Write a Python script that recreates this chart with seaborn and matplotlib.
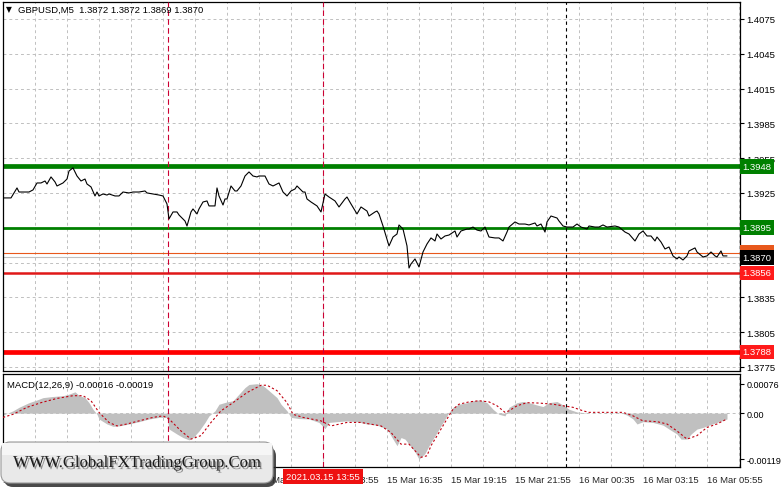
import numpy as np
import pandas as pd
import matplotlib
matplotlib.use("Agg")
import matplotlib.pyplot as plt
import matplotlib.patheffects as pe
import matplotlib.transforms as mtrans
from matplotlib.patches import FancyBboxPatch, Rectangle
import seaborn as sns

# ------------------- data -------------------
symbol_title = "GBPUSD,M5  1.3872 1.3872 1.3869 1.3870"
macd_title = "MACD(12,26,9) -0.00016 -0.00019"

# M5 bar index and close price
price_bar = [0, 4, 7, 8, 13, 15, 17, 19, 21, 22, 24, 26, 27, 30, 32, 33, 35, 37, 39, 41,
             42, 44, 46, 47, 48, 50, 52, 53, 56, 58, 60, 63, 65, 68, 71, 72, 75, 78, 80, 82,
             83, 85, 87, 88, 90, 91, 92, 94, 95, 97, 98, 100, 102, 103, 106, 107, 108, 110, 111, 112,
             114, 116, 117, 119, 121, 123, 125, 127, 128, 131, 133, 135, 138, 140, 142, 144, 146, 147, 150, 151,
             152, 154, 157, 159, 161, 163, 166, 168, 171, 172, 174, 177, 179, 182, 183, 186, 187, 188, 190, 193,
             195, 197, 198, 200, 202, 203, 204, 206, 208, 210, 212, 214, 216, 217, 219, 221, 223, 226, 227, 229,
             232, 233, 235, 237, 239, 241, 243, 246, 248, 250, 252, 253, 256, 258, 261, 263, 266, 267, 269, 271,
             272, 274, 277, 278, 280, 282, 285, 287, 289, 292, 293, 296, 298, 300, 302, 306, 308, 311, 313, 316,
             318, 320, 322, 324, 326, 327, 329, 331, 333, 335, 337, 338, 340, 342, 343, 346, 347, 350, 352, 354,
             356, 357, 359, 360, 362]
price_close = [1.39207, 1.39207, 1.39293, 1.39258, 1.39258, 1.39276, 1.39336, 1.39336, 1.39353, 1.39327,
               1.39388, 1.39345, 1.39310, 1.39336, 1.39370, 1.39439, 1.39466, 1.39396, 1.39353, 1.39370,
               1.39327, 1.39302, 1.39224, 1.39258, 1.39224, 1.39241, 1.39232, 1.39241, 1.39224, 1.39224,
               1.39258, 1.39250, 1.39258, 1.39258, 1.39267, 1.39250, 1.39241, 1.39232, 1.39224, 1.39155,
               1.39026, 1.39086, 1.39086, 1.39060, 1.39026, 1.39008, 1.38965, 1.39086, 1.39112, 1.39069,
               1.39112, 1.39172, 1.39181, 1.39138, 1.39138, 1.39293, 1.39224, 1.39146, 1.39198, 1.39198,
               1.39310, 1.39267, 1.39267, 1.39310, 1.39396, 1.39431, 1.39396, 1.39388, 1.39396, 1.39396,
               1.39327, 1.39310, 1.39336, 1.39258, 1.39224, 1.39267, 1.39284, 1.39310, 1.39258, 1.39258,
               1.39198, 1.39172, 1.39138, 1.39086, 1.39241, 1.39215, 1.39181, 1.39129, 1.39198, 1.39215,
               1.39155, 1.39069, 1.39129, 1.39094, 1.39051, 1.39086, 1.39094, 1.39069, 1.38965, 1.38793,
               1.38870, 1.38896, 1.38974, 1.38939, 1.38793, 1.38603, 1.38638, 1.38681, 1.38612, 1.38741,
               1.38810, 1.38862, 1.38836, 1.38896, 1.38853, 1.38879, 1.38887, 1.38922, 1.38870, 1.38922,
               1.38939, 1.38939, 1.38956, 1.38930, 1.38922, 1.38956, 1.38870, 1.38862, 1.38862, 1.38836,
               1.38913, 1.38956, 1.39000, 1.38982, 1.38982, 1.38974, 1.38991, 1.38965, 1.38982, 1.38913,
               1.39000, 1.39051, 1.39034, 1.39008, 1.38965, 1.38956, 1.38956, 1.38982, 1.38956, 1.38939,
               1.38965, 1.38956, 1.38956, 1.38974, 1.38956, 1.38965, 1.38956, 1.38913, 1.38896, 1.38836,
               1.38896, 1.38922, 1.38879, 1.38879, 1.38836, 1.38870, 1.38827, 1.38767, 1.38784, 1.38707,
               1.38681, 1.38698, 1.38672, 1.38707, 1.38750, 1.38776, 1.38741, 1.38698, 1.38707, 1.38741,
               1.38707, 1.38698, 1.38750, 1.38707, 1.38707]

# MACD histogram (main line) and signal line
hist_bar = [0, 5, 8, 13, 17, 20, 25, 30, 33, 36, 38, 41, 43, 45, 47, 48, 52, 55, 58, 63,
            68, 73, 78, 82, 83, 87, 90, 93, 95, 98, 101, 103, 106, 108, 112, 115, 118, 121, 123, 127,
            130, 133, 137, 139, 142, 144, 148, 153, 158, 161, 163, 167, 172, 177, 182, 187, 192, 195, 197, 199,
            201, 203, 206, 208, 211, 213, 217, 220, 223, 225, 228, 232, 235, 238, 242, 245, 248, 251, 253, 257,
            260, 263, 267, 270, 273, 277, 280, 283, 287, 293, 300, 310, 312, 315, 317, 320, 325, 330, 333, 337,
            339, 342, 344, 347, 350, 353, 357, 362]
hist_val = [-0.00005, 0.00006, 0.00015, 0.00027, 0.00034, 0.00040, 0.00043, 0.00045, 0.00049, 0.00055,
            0.00046, 0.00040, 0.00027, 0.00010, -0.00003, -0.00015, -0.00028, -0.00034, -0.00033, -0.00028,
            -0.00022, -0.00015, -0.00011, -0.00011, -0.00041, -0.00054, -0.00063, -0.00069, -0.00063, -0.00046,
            -0.00024, -0.00007, 0.00006, 0.00023, 0.00029, 0.00032, 0.00049, 0.00066, 0.00074, 0.00076,
            0.00071, 0.00058, 0.00040, 0.00023, 0.00006, -0.00011, -0.00014, -0.00015, -0.00024, -0.00040,
            -0.00024, -0.00022, -0.00020, -0.00022, -0.00028, -0.00031, -0.00041, -0.00067, -0.00084, -0.00063,
            -0.00067, -0.00080, -0.00100, -0.00119, -0.00104, -0.00084, -0.00050, -0.00024, 0.00002, 0.00015,
            0.00023, 0.00027, 0.00032, 0.00034, 0.00027, 0.00010, -0.00003, -0.00007, 0.00015, 0.00027,
            0.00030, 0.00027, 0.00021, 0.00017, 0.00027, 0.00030, 0.00021, 0.00010, 0.00003, 0.00000,
            0.00000, -0.00001, -0.00005, -0.00015, -0.00028, -0.00022, -0.00024, -0.00031, -0.00041, -0.00054,
            -0.00067, -0.00067, -0.00054, -0.00041, -0.00037, -0.00031, -0.00024, -0.00015]
signal_bar = [0, 5, 12, 19, 27, 35, 40, 44, 48, 53, 57, 62, 68, 75, 80, 83, 89, 94, 99, 104,
              109, 115, 122, 129, 132, 137, 142, 145, 150, 159, 164, 172, 179, 189, 194, 199, 203, 206, 209, 212,
              214, 218, 222, 225, 228, 233, 238, 243, 247, 251, 253, 257, 262, 268, 275, 280, 285, 290, 293, 302,
              310, 315, 320, 327, 332, 337, 342, 347, 352, 357, 362]
signal_val = [-0.00011, -0.00003, 0.00015, 0.00027, 0.00038, 0.00045, 0.00045, 0.00032, 0.00002, -0.00024,
              -0.00033, -0.00028, -0.00020, -0.00011, -0.00007, -0.00015, -0.00046, -0.00067, -0.00058, -0.00024,
              0.00006, 0.00027, 0.00053, 0.00072, 0.00072, 0.00058, 0.00027, -0.00003, -0.00011, -0.00020,
              -0.00033, -0.00024, -0.00024, -0.00033, -0.00050, -0.00080, -0.00080, -0.00097, -0.00114, -0.00110,
              -0.00084, -0.00050, -0.00015, 0.00010, 0.00023, 0.00029, 0.00032, 0.00029, 0.00019, 0.00002,
              0.00006, 0.00019, 0.00027, 0.00026, 0.00023, 0.00019, 0.00015, 0.00006, 0.00002, 0.00002,
              0.00002, -0.00007, -0.00020, -0.00022, -0.00028, -0.00046, -0.00067, -0.00058, -0.00037, -0.00028,
              -0.00015]

# axis ticks / labels (1.3895 and 1.3865 sit under the level boxes)
price_ticks = [1.3775, 1.3805, 1.3835, 1.3865, 1.3895, 1.3925, 1.3955, 1.3985, 1.4015, 1.4045, 1.4075]
price_tick_labels = ["1.3775", "1.3805", "1.3835", "", "", "1.3925", "1.3955", "1.3985", "1.4015", "1.4045", "1.4075"]
macd_ticks = [0.00076, 0.0, -0.00119]
macd_tick_labels = ["0.00076", "0.00", "-0.00119"]
time_tick_bars = [0, 32, 64, 96, 128, 160, 192, 224, 256, 288, 320, 352]
time_tick_labels = ["15 Mar 00:35", "15 Mar 03:15", "15 Mar 05:55", "15 Mar 08:35", "15 Mar 11:15",
                    "15 Mar 13:55", "15 Mar 16:35", "15 Mar 19:15", "15 Mar 21:55", "16 Mar 00:35",
                    "16 Mar 03:15", "16 Mar 05:55"]

# horizontal levels: (price, colour, width)
level_prices = [1.3948, 1.3895, 1.3873, 1.3870, 1.3856, 1.3788]
level_colors = ["#008000", "#008000", "#e8581c", "#c0c0c0", "#e01818", "#ff0000"]
level_widths = [3.4, 2.0, 0.8, 0.8, 1.8, 3.4]
level_labels = ["1.3873", "1.3948", "1.3895", "1.3870", "1.3856", "1.3788"]
label_prices = [1.3873, 1.3948, 1.3895, 1.3870, 1.3856, 1.3788]
label_bg = ["#e8581c", "#008000", "#008000", "#000000", "#ff1a1a", "#ff1a1a"]

# vertical markers (bar index)
red_vlines = [82.5, 160]
black_vlines = [281.5]
marker_time_text = "2021.03.15 13:55"
watermark = "WWW.GlobalFXTradingGroup.Com"

# ------------------- figure -------------------
sns.set_style("white")
plt.rcParams["font.family"] = ["Liberation Sans", "DejaVu Sans"]
plt.rcParams["axes.unicode_minus"] = False
FS = 6.8
W, H = 781, 489
fig = plt.figure(figsize=(W / 100, H / 100), dpi=100)

ax = fig.add_axes([3 / W, (H - 372) / H, 737 / W, 369 / H])
ax2 = fig.add_axes([3 / W, (H - 468) / H, 737 / W, 93 / H])

grid_kw = dict(color="#c0c0c0", linestyle=(0, (3, 3)), linewidth=0.7)
for a in (ax, ax2):
    a.set_xlim(0, 368.5)
    a.set_xticks(np.arange(0, 369, 16), minor=True)
    a.grid(axis="x", which="both", **grid_kw)
    for s in a.spines.values():
        s.set_color("black")
        s.set_linewidth(0.9)
    for xv in red_vlines:
        a.axvline(xv, color="#cc0033", linestyle=(0, (5, 3)), linewidth=0.8, zorder=3)
    for xv in black_vlines:
        a.axvline(xv, color="black", linestyle=(0, (3, 3)), linewidth=0.8, zorder=3)
    a.yaxis.tick_right()
    a.tick_params(axis="y", direction="out", length=3, pad=1.5, labelsize=FS,
                  right=True, left=False, colors="black")

# price panel
ax.set_ylim(1.37715, 1.40896)
ax.set_yticks(price_ticks)
ax.set_yticklabels(price_tick_labels)
ax.grid(axis="y", **grid_kw)
ax.set_xticks([])
ax.set_xticks(np.arange(0, 369, 16), minor=True)
ax.tick_params(axis="x", which="both", length=0, labelbottom=False)

for p, c, lw in zip(level_prices, level_colors, level_widths):
    ax.axhline(p, color=c, linewidth=lw, zorder=2)

df = pd.DataFrame({"bar": price_bar, "close": price_close})
sns.lineplot(data=df, x="bar", y="close", color="black", linewidth=0.8, ax=ax, zorder=4)
ax.set_xlabel("")
ax.set_ylabel("")

lab_tr = mtrans.blended_transform_factory(ax.transAxes, ax.transData)
label_offsets = [0.00005, 0, 0, -0.00008, 0, 0]
for p, t, bg, off in zip(label_prices, level_labels, label_bg, label_offsets):
    ax.text(1.0035, p + off, t, transform=lab_tr, ha="left", va="center", fontsize=FS,
            color="white", clip_on=False, zorder=10,
            bbox=dict(boxstyle="square,pad=0.3", facecolor=bg, edgecolor="none"))

# MACD panel
ax2.set_ylim(-0.00139, 0.00101)
mdf = pd.DataFrame({"bar": signal_bar, "signal": signal_val})
ax2.fill_between(hist_bar, 0, hist_val, color="#c0c0c0", linewidth=0, zorder=2)
sns.lineplot(data=mdf, x="bar", y="signal", color="#c00010", linewidth=0.8,
             linestyle=(0, (2, 2)), ax=ax2, zorder=4)
ax2.axhline(0, **grid_kw)
ax2.set_yticks(macd_ticks)
ax2.set_yticklabels(macd_tick_labels)
ax2.tick_params(axis="y", labelsize=6.5)
ax2.set_xticks(time_tick_bars)
ax2.set_xticklabels(time_tick_labels, ha="left")
ax2.tick_params(axis="x", which="major", direction="out", length=4, pad=2, labelsize=FS)
ax2.tick_params(axis="x", which="minor", length=0)
ax2.set_xlabel("")
ax2.set_ylabel("")

tr2 = mtrans.blended_transform_factory(ax2.transData, ax2.transAxes)
ax2.text(red_vlines[1], -0.105, marker_time_text, transform=tr2, ha="center", va="center",
         fontsize=FS, color="white", clip_on=False, zorder=10,
         bbox=dict(boxstyle="square,pad=0.3", facecolor="#ee1111", edgecolor="none"))

# overlay in pixel coords: titles and watermark
ov = fig.add_axes([0, 0, 1, 1], facecolor="none")
ov.set_xlim(0, W)
ov.set_ylim(H, 0)
ov.axis("off")
ov.text(6, 10, "\u25bc", fontsize=5.5, va="center", ha="left", color="black", family="DejaVu Sans")
ov.text(18, 10, symbol_title, fontsize=FS, va="center", ha="left", color="black")
ov.text(7, 385, macd_title, fontsize=FS, va="center", ha="left", color="black")

ov.add_patch(FancyBboxPatch((4, 448), 272, 40, boxstyle="round,pad=0,rounding_size=9",
                            facecolor="#2a2a2a", edgecolor="none", alpha=0.85, zorder=1))
ov.add_patch(FancyBboxPatch((1, 443), 272, 41, boxstyle="round,pad=0,rounding_size=9",
                            facecolor="#e9e9e9", edgecolor="#9a9a9a", linewidth=0.8, zorder=2))
ov.add_patch(Rectangle((2, 444), 270, 12, facecolor="#f6f6f6", edgecolor="none", zorder=2))
ov.text(137, 464, watermark, fontsize=12, family="Liberation Serif", color="#1a1a1a",
        ha="center", va="center", zorder=3,
        path_effects=[pe.withSimplePatchShadow(offset=(1.2, -1.5), shadow_rgbFace="#777777", alpha=0.8)])

fig.savefig("out.png", dpi=100, facecolor="white")
